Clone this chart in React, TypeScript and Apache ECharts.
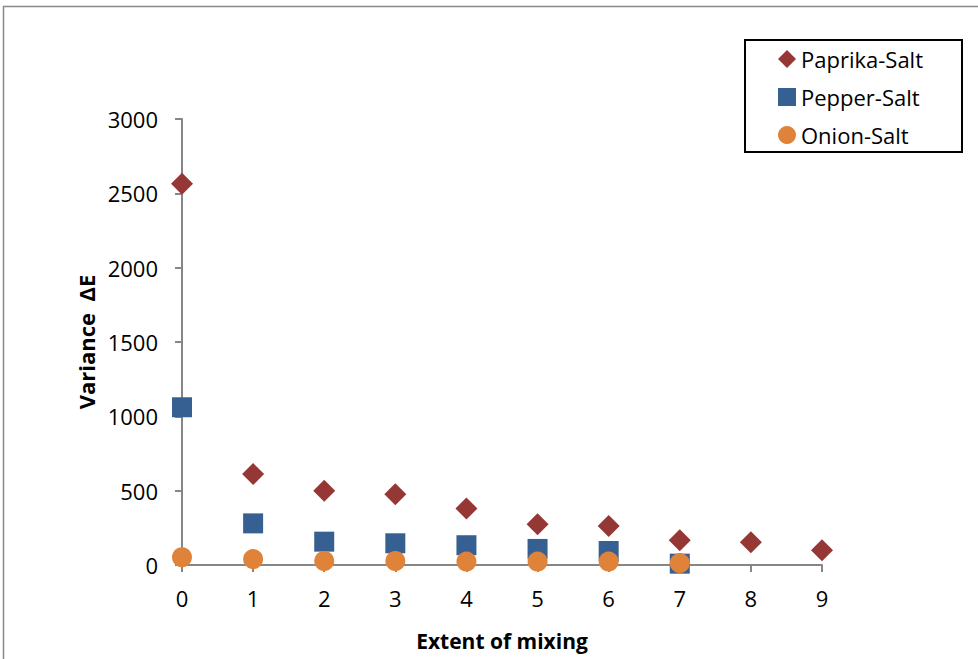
import React, { useEffect, useRef } from "react";
import * as echarts from "echarts";

const xValues = [0, 1, 2, 3, 4, 5, 6, 7, 8, 9];
const paprikaSalt = [2564, 612, 500, 476, 380, 274, 262, 166, 153, 99];
const pepperSalt = [1061, 280, 157, 146, 133, 108, 94, 9];
const onionSalt = [52, 40, 27, 27, 23, 23, 23, 13];
const seriesNames = ["Paprika-Salt", "Pepper-Salt", "Onion-Salt"];
const colors = ["#953735", "#376092", "#E0833A"];

const pair = (vals: number[]) => vals.map((v, i) => [xValues[i], v]);

const FONT = "'Open Sans', 'Liberation Sans', sans-serif";

export default function App() {
  const ref = useRef<HTMLDivElement>(null);
  useEffect(() => {
    document.body.style.margin = "0";
    const chart = echarts.init(ref.current!, null, { renderer: "svg" });
    const axisGray = "#868686";
    chart.setOption({
      animation: false,
      backgroundColor: "#ffffff",
      textStyle: { fontFamily: FONT },
      grid: { left: 182, right: 156, top: 119, bottom: 94, containLabel: false },
      xAxis: {
        type: "value",
        min: 0,
        max: 9,
        interval: 1,
        name: "Extent of mixing",
        nameLocation: "middle",
        nameGap: 65,
        nameTextStyle: { fontSize: 21, fontWeight: "bold", color: "#000", fontFamily: FONT },
        axisLine: { show: true, onZero: false, lineStyle: { color: axisGray, width: 2 } },
        axisTick: { show: true, length: 7, lineStyle: { color: axisGray, width: 2 } },
        axisLabel: { fontSize: 22, color: "#000", margin: 22, fontFamily: FONT, formatter: (v: number) => String(v) },
        splitLine: { show: false },
      },
      yAxis: {
        type: "value",
        min: 0,
        max: 3000,
        interval: 500,
        name: "Variance  ΔE",
        nameLocation: "middle",
        nameGap: 74,
        nameRotate: 90,
        nameTextStyle: { fontSize: 22, fontWeight: "bold", color: "#000", fontFamily: FONT },
        axisLine: { show: true, lineStyle: { color: axisGray, width: 2 } },
        axisTick: { show: true, length: 7, lineStyle: { color: axisGray, width: 2 } },
        axisLabel: { fontSize: 22, color: "#000", margin: 24, fontFamily: FONT, formatter: (v: number) => String(v) },
        splitLine: { show: false },
      },
      legend: {
        show: true,
        orient: "vertical",
        left: 778,
        top: 47,
        padding: 0,
        itemWidth: 18,
        itemHeight: 18,
        itemGap: 14,
        textStyle: { fontSize: 22, color: "#000", lineHeight: 24, fontFamily: FONT },
        data: [
          { name: seriesNames[0], icon: "diamond" },
          { name: seriesNames[1], icon: "rect" },
          { name: seriesNames[2], icon: "circle" },
        ],
      },
      graphic: [
        {
          type: "rect",
          shape: { x: 3.5, y: 6.5, width: 1000, height: 700 },
          style: { fill: "none", stroke: "#888888", lineWidth: 1.5 },
          silent: true,
        },
        {
          type: "rect",
          shape: { x: 745, y: 40, width: 217, height: 112 },
          style: { fill: "none", stroke: "#000000", lineWidth: 2 },
          silent: true,
        },
      ],
      series: [
        {
          name: seriesNames[0],
          type: "scatter",
          symbol: "diamond",
          symbolSize: 22,
          itemStyle: { color: colors[0], opacity: 1 },
          data: pair(paprikaSalt),
        },
        {
          name: seriesNames[1],
          type: "scatter",
          symbol: "rect",
          symbolSize: 20,
          itemStyle: { color: colors[1], opacity: 1 },
          data: pair(pepperSalt),
        },
        {
          name: seriesNames[2],
          type: "scatter",
          symbol: "circle",
          symbolSize: 20,
          itemStyle: { color: colors[2], opacity: 1 },
          data: pair(onionSalt),
        },
      ],
    });
    return () => chart.dispose();
  }, []);
  return (
    <div
      ref={ref}
      style={{ position: "absolute", left: 0, top: 0, width: 978, height: 659 }}
    />
  );
}
